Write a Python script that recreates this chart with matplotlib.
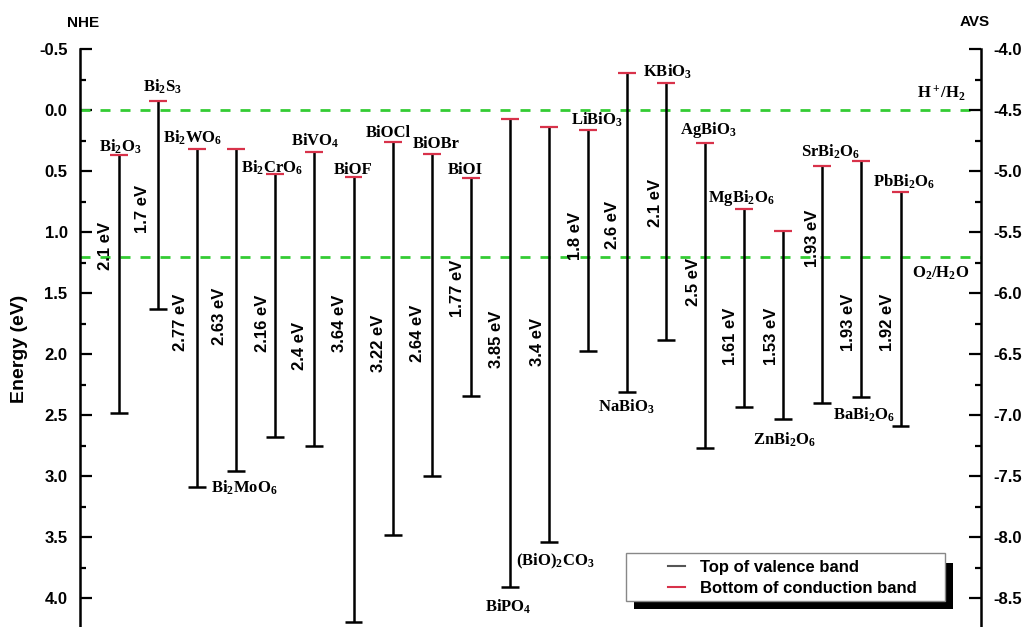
import matplotlib
matplotlib.use("Agg")
import matplotlib.pyplot as plt
from matplotlib.lines import Line2D
from matplotlib.patches import Rectangle
from matplotlib.ticker import MultipleLocator, FormatStrFormatter

plt.rcParams['font.family'] = 'Liberation Sans'
plt.rcParams['axes.unicode_minus'] = False
plt.rcParams['mathtext.fontset'] = 'custom'
plt.rcParams['mathtext.rm'] = 'Liberation Serif:bold'
plt.rcParams['mathtext.it'] = 'Liberation Serif:bold'
plt.rcParams['mathtext.bf'] = 'Liberation Serif:bold'

# band edges vs NHE (eV)
materials = ['Bi$_2$O$_3$', 'Bi$_2$S$_3$', 'Bi$_2$WO$_6$', 'Bi$_2$MoO$_6$', 'Bi$_2$CrO$_6$',
             'BiVO$_4$', 'BiOF', 'BiOCl', 'BiOBr', 'BiOI', 'BiPO$_4$', '(BiO)$_2$CO$_3$',
             'LiBiO$_3$', 'NaBiO$_3$', 'KBiO$_3$', 'AgBiO$_3$', 'MgBi$_2$O$_6$',
             'ZnBi$_2$O$_6$', 'SrBi$_2$O$_6$', 'BaBi$_2$O$_6$', 'PbBi$_2$O$_6$']
cb = [0.37, -0.07, 0.32, 0.32, 0.52, 0.34, 0.55, 0.26, 0.36, 0.56, 0.07, 0.14,
      0.16, -0.30, -0.22, 0.27, 0.81, 0.99, 0.46, 0.42, 0.67]
vb = [2.48, 1.63, 3.09, 2.96, 2.68, 2.75, 4.19, 3.48, 3.00, 2.34, 3.91, 3.54,
      1.97, 2.31, 1.88, 2.77, 2.43, 2.53, 2.40, 2.35, 2.59]
gaps = ['2.1', '1.7', '2.77', '2.63', '2.16', '2.4', '3.64', '3.22', '2.64', '1.77', '3.85',
        '3.4', '1.8', '2.6', '2.1', '2.5', '1.61', '1.53', '1.93', '1.93', '1.92']
redox = [0.0, 1.2]
redox_names = ['H$^+$/H$_2$', 'O$_2$/H$_2$O']

# annotation placement (data coords)
name_pos = [(1.02, 0.34), (2.10, -0.15), (2.87, 0.27), (4.20, 3.13), (4.91, 0.51),
            (6.01, 0.29), (6.99, 0.52), (7.88, 0.22), (9.11, 0.31), (9.85, 0.52),
            (10.95, 4.11), (12.16, 3.73), (13.23, 0.12), (13.98, 2.47), (15.03, -0.27),
            (16.07, 0.20), (16.92, 0.75), (18.04, 2.74), (19.20, 0.38), (20.07, 2.54),
            (21.09, 0.63)]
gap_pos = [(0.64, 1.11), (1.61, 0.81), (2.56, 1.74), (3.58, 1.69), (4.66, 1.75),
           (5.63, 1.93), (6.65, 1.75), (7.63, 1.91), (8.65, 1.83), (9.65, 1.46),
           (10.67, 1.88), (11.70, 1.90), (12.67, 1.03), (13.64, 0.94), (14.72, 0.76),
           (15.69, 1.41), (16.64, 1.85), (17.71, 1.85), (18.76, 1.05), (19.66, 1.74),
           (20.66, 1.74)]
redox_pos = [(22.04, -0.10), (22.04, 1.37)]

fig = plt.figure(figsize=(10.26, 6.27), dpi=100)
ax = fig.add_axes([80 / 1026, 0.0, 901 / 1026, 578 / 627])
ax.set_xlim(0, 23.06)
ymax = 4.235
ax.set_ylim(ymax, -0.5)

x = list(range(1, len(materials) + 1))
red = '#d8324a'
ax.vlines(x, cb, vb, color='black', lw=1.8, zorder=3)
ax.hlines(cb, [i - 0.23 for i in x], [i + 0.23 for i in x], color=red, lw=1.6, zorder=4)
ax.hlines(vb, [i - 0.23 for i in x], [i + 0.23 for i in x], color='black', lw=1.8, zorder=4)

for r in redox:
    ax.axhline(r, color='#33cc33', lw=2, dashes=(3.6, 3.6), zorder=2)

serif = dict(family='Liberation Serif', fontweight='bold', fontsize=12)
for name, (px, py) in zip(materials, name_pos):
    ax.text(px, py, name, ha='center', va='baseline', **serif)
for name, (px, py) in zip(redox_names, redox_pos):
    ax.text(px, py, name, ha='center', va='baseline', **serif)
for g, (px, py) in zip(gaps, gap_pos):
    ax.text(px, py, g + ' eV', rotation=90, ha='center', va='center',
            fontsize=12, fontweight='bold')

ax.spines['top'].set_visible(False)
ax.spines['bottom'].set_visible(False)
ax.spines['right'].set_visible(False)
ax.spines['left'].set_linewidth(1.8)
ax.set_xticks([])
ax.yaxis.set_major_locator(MultipleLocator(0.5))
ax.yaxis.set_minor_locator(MultipleLocator(0.25))
ax.yaxis.set_major_formatter(FormatStrFormatter('%.1f'))
ax.tick_params(axis='y', which='major', direction='in', length=8.5, width=1.6,
               labelsize=12, pad=9)
ax.tick_params(axis='y', which='minor', direction='in', length=4.5, width=1.6)
for t in ax.get_yticklabels():
    t.set_fontweight('bold')

ax2 = ax.twinx()
ax2.set_ylim(-4.5 - ymax, -4.0)
for s in ['top', 'bottom', 'left']:
    ax2.spines[s].set_visible(False)
ax2.spines['right'].set_linewidth(1.8)
ax2.yaxis.set_major_locator(MultipleLocator(0.5))
ax2.yaxis.set_minor_locator(MultipleLocator(0.25))
ax2.yaxis.set_major_formatter(FormatStrFormatter('%.1f'))
ax2.tick_params(axis='y', which='major', direction='in', length=8.5, width=1.6,
                labelsize=12, pad=9)
ax2.tick_params(axis='y', which='minor', direction='in', length=4.5, width=1.6)
for t in ax2.get_yticklabels():
    t.set_fontweight('bold')

fig.text(83 / 1026, 1 - 23 / 627, 'NHE', ha='center', va='center', fontsize=11, fontweight='bold')
fig.text(975 / 1026, 1 - 22 / 627, 'AVS', ha='center', va='center', fontsize=11, fontweight='bold')
fig.text(20 / 1026, 1 - 349 / 627, 'Energy (eV)', rotation=90, ha='center', va='center',
         fontsize=14, fontweight='bold')

# legend box with offset black shadow
W, H = 1026, 627
fig.add_artist(Rectangle((634 / W, 1 - 609 / H), 319 / W, 46 / H, transform=fig.transFigure,
                         facecolor='black', edgecolor='none', zorder=3))
fig.add_artist(Rectangle((626 / W, 1 - 601 / H), 319 / W, 48 / H, transform=fig.transFigure,
                         facecolor='white', edgecolor='#888888', lw=1.0, zorder=4))
handles = [Line2D([], [], color='#555555', lw=1.5), Line2D([], [], color=red, lw=1.5)]
fig.legend(handles, ['Top of valence band', 'Bottom of conduction band'],
           loc='upper left', bbox_to_anchor=(668 / W, 1 - 560 / H), frameon=False,
           borderpad=0, borderaxespad=0, handlelength=1.0, handletextpad=0.9,
           labelspacing=0.38, prop={'weight': 'bold', 'size': 12}).set_zorder(5)

fig.savefig('out.png', dpi=100)
